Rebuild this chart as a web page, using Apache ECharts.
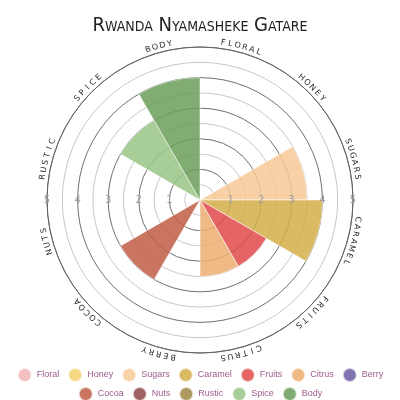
<!DOCTYPE html>
<html>
<head>
<meta charset="utf-8">
<script src="https://cdn.jsdelivr.net/npm/echarts@6/dist/echarts.min.js"></script>
<style>
  html, body { margin: 0; padding: 0; background: #fff; }
  #main { width: 400px; height: 400px; }
</style>
</head>
<body>
<div id="main"></div>
<script>
// flavour wheel data
const categories = ['Floral', 'Honey', 'Sugars', 'Caramel', 'Fruits', 'Citrus', 'Berry', 'Cocoa', 'Nuts', 'Rustic', 'Spice', 'Body'];
const scores = [0, 0, 3.5, 4, 2.5, 2.5, 0, 3, 0, 0, 3, 4];
const colors = ['#f1b6b6', '#f2d16d', '#f7c997', '#d3ae46', '#e04a4a', '#ecae70', '#6b5a9f', '#c05d46', '#8e4545', '#a08845', '#98c585', '#6b9e59'];
const titleText = 'Rwanda Nyamasheke Gatare';

const cx = 200, cy = 200, R = 153;

const chart = echarts.init(document.getElementById('main'));

// one series per category so the legend gets one entry each
const series = categories.map((name, i) => {
    return {
        name: name,
        type: 'bar',
        coordinateSystem: 'polar',
        polarIndex: 0,
        stack: 'wheel',
        barCategoryGap: '0%',
        itemStyle: {
            color: colors[i],
            opacity: 0.85,
            borderColor: 'rgba(255,255,255,0.8)',
            borderWidth: 0.8
        },
        data: categories.map((c, j) => j === i ? scores[i] : '-')
    };
});

// curved category names, letter by letter along the outer ring
const letterR = 159;
const letterStep = 7.4 / letterR;
const graphics = [];
categories.forEach((name, i) => {
    const word = name.toUpperCase();
    const mid = (90 - (i + 0.5) * 30) * Math.PI / 180;
    for (let j = 0; j < word.length; j++) {
        const t = mid + ((word.length - 1) / 2 - j) * letterStep;
        graphics.push({
            type: 'text',
            x: cx + letterR * Math.cos(t),
            y: cy - letterR * Math.sin(t),
            rotation: t - Math.PI / 2,
            style: {
                text: word[j],
                align: 'center',
                verticalAlign: 'middle',
                fontSize: 8,
                fontFamily: 'DejaVu Sans',
                fill: '#2a2a2a'
            }
        });
    }
});

const radiusLabelAxis = (idx) => ({
    polarIndex: idx,
    type: 'value',
    min: 0,
    max: 5,
    interval: 1,
    z: 10,
    axisLine: { show: false },
    axisTick: { show: false },
    splitLine: { show: false },
    axisLabel: {
        showMinLabel: false,
        color: '#a0a0a0',
        fontSize: 10,
        fontFamily: 'DejaVu Sans',
        margin: 0,
        align: 'center',
        verticalAlign: 'middle'
    }
});

const legendBase = {
    left: 'center',
    width: 400,
    icon: 'circle',
    itemWidth: 14,
    itemHeight: 14,
    itemGap: 8,
    textStyle: { color: '#9e5a8e', fontSize: 9, fontFamily: 'Liberation Sans' }
};

const option = {
    backgroundColor: '#fff',
    animation: false,
    title: {
        text: titleText,
        left: 'center',
        top: 11,
        textStyle: {
            fontFamily: '"DejaVu Sans Condensed", "Liberation Sans", sans-serif',
            fontStyle: 'small-caps',
            fontWeight: 'normal',
            fontSize: 20,
            color: '#222'
        }
    },
    legend: [
        Object.assign({}, legendBase, { data: categories.slice(0, 7), top: 362 }),
        Object.assign({}, legendBase, { data: categories.slice(7), top: 381 })
    ],
    polar: [
        { center: [cx, cy], radius: R },
        { center: [cx, cy], radius: R },
        { center: [cx, cy], radius: R }
    ],
    angleAxis: [
        {
            polarIndex: 0,
            type: 'category',
            data: categories,
            startAngle: 90,
            clockwise: true,
            axisLine: { lineStyle: { color: '#666', width: 1 } },
            axisTick: { show: false },
            axisLabel: { show: false },
            splitLine: { show: false }
        },
        { polarIndex: 1, type: 'value', startAngle: 0, show: false },
        { polarIndex: 2, type: 'value', startAngle: 180, show: false }
    ],
    radiusAxis: [
        {
            polarIndex: 0,
            type: 'value',
            min: 0,
            max: 5,
            interval: 0.5,
            axisLine: { show: false },
            axisTick: { show: false },
            axisLabel: { show: false },
            splitLine: { show: true, lineStyle: { color: ['#707070', '#c8c8c8'], width: 1 } }
        },
        radiusLabelAxis(1),
        radiusLabelAxis(2)
    ],
    graphic: graphics,
    series: series
};

chart.setOption(option);
</script>
</body>
</html>
